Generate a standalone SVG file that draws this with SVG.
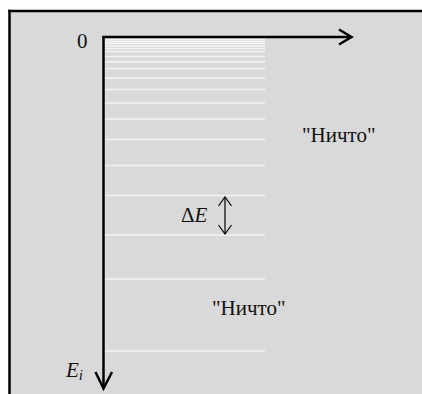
<svg xmlns="http://www.w3.org/2000/svg" width="422" height="394" viewBox="0 0 422 394">
<style>
.bg{fill:#d9d9d9}
.edge{stroke:#000;stroke-width:2.5}
.axis{stroke:#000;stroke-width:2.5;fill:none}
.lvl{stroke:#f4f4f4;stroke-width:1.5}
text{font-family:"Liberation Serif","Times New Roman",serif;font-size:21px;fill:#111}
.thin{stroke:#000;stroke-width:1.2;fill:none}
</style>
<rect class="bg" x="9.5" y="11" width="413" height="383"/>
<line class="edge" x1="9.5" y1="9.75" x2="9.5" y2="394"/>
<line class="edge" x1="8.25" y1="11" x2="422" y2="11"/>
<g id="levels">
<line class="lvl" x1="105" x2="265" y1="39.5" y2="39.5"/>
<line class="lvl" x1="105" x2="265" y1="41.5" y2="41.5"/>
<line class="lvl" x1="105" x2="265" y1="43.5" y2="43.5"/>
<line class="lvl" x1="105" x2="265" y1="46" y2="46"/>
<line class="lvl" x1="105" x2="265" y1="48.5" y2="48.5"/>
<line class="lvl" x1="105" x2="265" y1="51.5" y2="51.5"/>
<line class="lvl" x1="105" x2="265" y1="56.5" y2="56.5"/>
<line class="lvl" x1="105" x2="265" y1="62" y2="62"/>
<line class="lvl" x1="105" x2="265" y1="68.5" y2="68.5"/>
<line class="lvl" x1="105" x2="265" y1="78" y2="78"/>
<line class="lvl" x1="105" x2="265" y1="89.5" y2="89.5"/>
<line class="lvl" x1="105" x2="265" y1="103" y2="103"/>
<line class="lvl" x1="105" x2="265" y1="119" y2="119"/>
<line class="lvl" x1="105" x2="265" y1="139.5" y2="139.5"/>
<line class="lvl" x1="105" x2="265" y1="165.5" y2="165.5"/>
<line class="lvl" x1="105" x2="265" y1="195.5" y2="195.5"/>
<line class="lvl" x1="105" x2="265" y1="235" y2="235"/>
<line class="lvl" x1="105" x2="265" y1="279" y2="279"/>
<line class="lvl" x1="105" x2="265" y1="351" y2="351"/>
</g>
<g id="connectors">
<path class="axis" d="M102.5 37 H351"/>
<path class="axis" d="M339 29.5 L351.5 37 L339 44.5"/>
<path class="axis" d="M103.5 36 V388"/>
<path class="axis" d="M95.5 372 L103.5 388.5 L112 372"/>
<path class="thin" d="M225 197 V234"/>
<path class="thin" d="M218.5 206 L225 197 L231.5 206"/>
<path class="thin" d="M218.5 225 L225 234 L231.5 225"/>
</g>
<g id="labels">
<text x="77" y="47.5" font-size="22">0</text>
<text x="302" y="142">"Ничто"</text>
<text x="212" y="315">"Ничто"</text>
<text x="181" y="222">Δ<tspan font-style="italic">E</tspan></text>
<text x="66" y="377" font-style="italic" font-size="22">E<tspan font-size="15" dy="3">i</tspan></text>
</g>
</svg>
